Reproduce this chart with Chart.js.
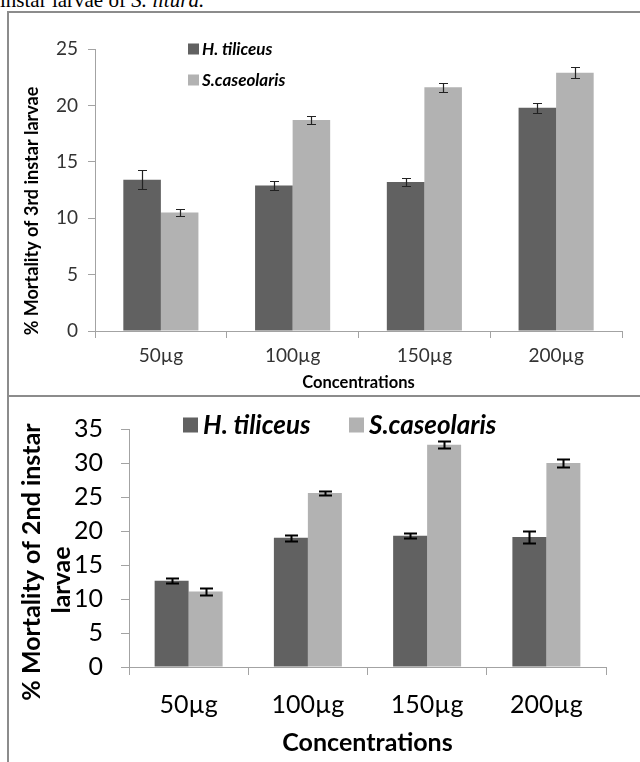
<!DOCTYPE html>
<html><head><meta charset="utf-8">
<script src="https://cdn.jsdelivr.net/npm/chart.js@4.4.1/dist/chart.umd.min.js"></script>
<style>
html,body{margin:0;padding:0;background:#fff;}
body{width:640px;height:762px;position:relative;overflow:hidden;}
#caption{position:absolute;left:0;top:-10px;font:21px/21px 'Liberation Serif','Times New Roman',serif;color:#000;white-space:nowrap;}
.wrap{position:absolute;left:0;width:640px;}
#w1{top:12px;height:384px;}
#w2{top:396px;height:366px;}
.bl{position:absolute;background:#8c8c8c;}
</style></head><body>
<div id="caption">instar larvae of <i>S. litura.</i></div>
<div class="wrap" id="w1"><canvas id="c1" width="640" height="384"></canvas></div>
<div class="wrap" id="w2"><canvas id="c2" width="640" height="366"></canvas></div>
<div class="bl" style="left:7px;top:11px;width:2px;height:386px"></div>
<div class="bl" style="left:7px;top:11px;width:633px;height:2px"></div>
<div class="bl" style="left:7px;top:395px;width:633px;height:2px"></div>
<div class="bl" style="left:7px;top:395px;width:2px;height:367px"></div>
<script>
// ---- data ----
const categories = ['50µg', '100µg', '150µg', '200µg'];
const seriesNames = ['H. tiliceus', 'S.caseolaris'];

// Top chart: % mortality of 3rd instar larvae
const thirdInstarHT = [13.4, 12.9, 13.2, 19.8];
const thirdInstarSC = [10.5, 18.7, 21.6, 22.9];
const thirdInstarHTErr = [0.85, 0.4, 0.37, 0.45];
const thirdInstarSCErr = [0.3, 0.35, 0.37, 0.5];
const thirdInstarTicks = [0, 5, 10, 15, 20, 25];

// Bottom chart: % mortality of 2nd instar larvae
const secondInstarHT = [12.7, 19.0, 19.3, 19.1];
const secondInstarSC = [11.1, 25.6, 32.7, 30.0];
const secondInstarHTErr = [0.4, 0.4, 0.4, 0.9];
const secondInstarSCErr = [0.55, 0.35, 0.5, 0.65];
const secondInstarTicks = [0, 5, 10, 15, 20, 25, 30, 35];

const xTitle = 'Concentrations';
const yTitleTop = ['% Mortality of 3rd instar larvae'];
const yTitleBottom = ['% Mortality of 2nd instar', 'larvae'];

const DARK = '#616161', LIGHT = '#b2b2b2', AXIS = '#a3a3a3';

// ---- plugins ----
const errorBars = {
  id: 'errorBars',
  afterDatasetsDraw(chart, args, o) {
    const ctx = chart.ctx, ys = chart.scales.y;
    ctx.save();
    ctx.strokeStyle = o.color; ctx.lineWidth = o.width;
    chart.data.datasets.forEach((ds, i) => {
      chart.getDatasetMeta(i).data.forEach((bar, j) => {
        const v = ds.data[j], e = ds.errors[j];
        const x = Math.round(bar.x) + 0.5;
        const y1 = Math.round(ys.getPixelForValue(v + e)) + 0.5;
        const y2 = Math.round(ys.getPixelForValue(v - e)) + 0.5;
        ctx.beginPath();
        ctx.moveTo(x, y1); ctx.lineTo(x, y2);
        ctx.moveTo(x - o.cap, y1); ctx.lineTo(x + o.cap, y1);
        ctx.moveTo(x - o.cap, y2); ctx.lineTo(x + o.cap, y2);
        ctx.stroke();
      });
    });
    ctx.restore();
  }
};
const boxLegend = {
  id: 'boxLegend',
  afterDraw(chart, args, o) {
    const ctx = chart.ctx;
    ctx.save();
    ctx.font = o.font; ctx.textBaseline = 'middle'; ctx.textAlign = 'left';
    chart.data.datasets.forEach((ds, i) => {
      const p = o.items[i];
      ctx.fillStyle = ds.backgroundColor;
      ctx.fillRect(p.x, p.y - o.box / 2, o.box, o.box);
      ctx.fillStyle = o.color;
      ctx.fillText(ds.label, p.x + o.box + o.gap, p.y + 1);
    });
    ctx.restore();
  }
};
const yTitle = {
  id: 'yTitle',
  afterDraw(chart, args, o) {
    const ctx = chart.ctx;
    ctx.save();
    ctx.font = o.font; ctx.fillStyle = o.color;
    ctx.textAlign = 'center'; ctx.textBaseline = 'middle';
    o.lines.forEach((t, i) => {
      ctx.save();
      ctx.translate(o.pos[i].x, o.pos[i].y);
      ctx.rotate(-Math.PI / 2);
      ctx.fillText(t, 0, 0);
      ctx.restore();
    });
    ctx.restore();
  }
};

function makeChart(id, s) {
  return new Chart(document.getElementById(id), {
    type: 'bar',
    data: {
      labels: categories,
      datasets: [
        { label: seriesNames[0], data: s.a, errors: s.ae, backgroundColor: DARK, borderWidth: 0,
          categoryPercentage: 0.57, barPercentage: 1.0 },
        { label: seriesNames[1], data: s.b, errors: s.be, backgroundColor: LIGHT, borderWidth: 0,
          categoryPercentage: 0.57, barPercentage: 1.0 }
      ]
    },
    plugins: [errorBars, boxLegend, yTitle],
    options: {
      responsive: false, animation: false, devicePixelRatio: 1,
      layout: { padding: s.pad },
      plugins: {
        legend: { display: false }, tooltip: { enabled: false },
        errorBars: s.err, boxLegend: s.legend, yTitle: s.ytitle
      },
      scales: {
        x: {
          afterFit: sc => { sc.height = s.xh; },
          grid: { display: true, drawOnChartArea: false, drawTicks: true, tickLength: s.tl, color: AXIS, offset: true },
          border: { display: true, color: AXIS, width: 1 },
          ticks: { padding: s.xpad, color: s.tickColor, font: { family: 'Lato', size: s.tickSize } },
          title: { display: true, text: xTitle, color: '#000', padding: { top: 0, bottom: s.xtPad },
                   font: { family: 'Lato', size: s.titleSize, weight: 'bold' } }
        },
        y: {
          min: 0, max: s.ticks[s.ticks.length - 1],
          afterFit: sc => { sc.width = s.yw; },
          afterBuildTicks: sc => { sc.ticks = s.ticks.map(v => ({ value: v })); },
          grid: { display: true, drawOnChartArea: false, drawTicks: true, tickLength: s.tl, color: AXIS },
          border: { display: true, color: AXIS, width: 1 },
          ticks: { padding: s.ypad, color: s.tickColor, font: { family: 'Lato', size: s.tickSize } }
        }
      }
    }
  });
}

makeChart('c1', {
  a: thirdInstarHT, b: thirdInstarSC, ae: thirdInstarHTErr, be: thirdInstarSCErr,
  ticks: thirdInstarTicks,
  pad: { left: 0, top: 37, right: 18, bottom: 0 },
  xh: 65, yw: 95, tl: 7, xpad: 6, ypad: 10, xtPad: 3,
  tickSize: 19, titleSize: 16.5, tickColor: '#333',
  err: { color: '#222', width: 1.2, cap: 4.5 },
  legend: { font: 'italic bold 17px Lato', color: '#000', box: 11, gap: 3,
            items: [{ x: 188, y: 37 }, { x: 188, y: 68 }] },
  ytitle: { font: 'bold 18px Lato', color: '#000', lines: yTitleTop, pos: [{ x: 32, y: 199 }] }
});

makeChart('c2', {
  a: secondInstarHT, b: secondInstarSC, ae: secondInstarHTErr, be: secondInstarSCErr,
  ticks: secondInstarTicks,
  pad: { left: 0, top: 19, right: 34, bottom: 0 },
  xh: 95, yw: 129, tl: 8, xpad: 15, ypad: 18, xtPad: 4,
  tickSize: 25, titleSize: 25, tickColor: '#000',
  err: { color: '#000', width: 2, cap: 6.5 },
  legend: { font: 'italic bold 26px Lato', color: '#000', box: 15, gap: 5,
            items: [{ x: 183, y: 29 }, { x: 349, y: 29 }] },
  ytitle: { font: 'bold 25px Lato', color: '#000', lines: yTitleBottom, pos: [{ x: 32, y: 166 }, { x: 62, y: 184 }] }
});
</script>
</body></html>
